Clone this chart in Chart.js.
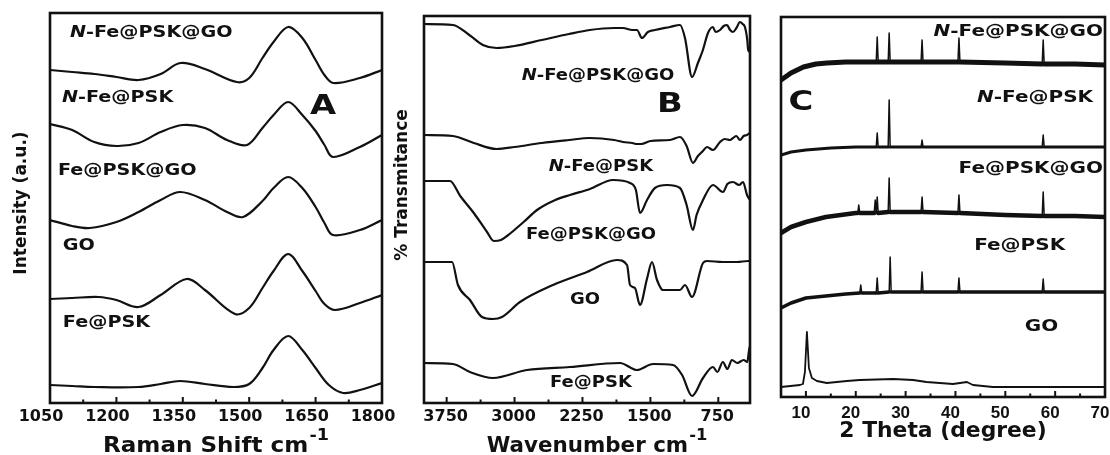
<!DOCTYPE html>
<html>
<head>
<meta charset="utf-8">
<title>Raman / FTIR / XRD</title>
<script src="https://cdn.jsdelivr.net/npm/chart.js@4.4.1/dist/chart.umd.min.js"></script>
<style>
  body { margin: 0; background: #fff; }
  #fig { position: relative; width: 1110px; height: 455px; overflow: hidden; background: #fff; }
  #fig canvas { position: absolute; top: 0; }
</style>
</head>
<body>
<div id="fig">
  <canvas id="ramanChart" width="400" height="455" style="left:0"></canvas>
  <canvas id="irChart" width="367" height="455" style="left:388px"></canvas>
  <canvas id="xrdChart" width="355" height="455" style="left:755px"></canvas>
</div>
<script>
'use strict';
// sample names, top to bottom in every panel
let sampleNames = ['N-Fe@PSK@GO', 'N-Fe@PSK', 'Fe@PSK@GO', 'GO', 'Fe@PSK'];
let xrdNames = ['N-Fe@PSK@GO', 'N-Fe@PSK', 'Fe@PSK@GO', 'Fe@PSK', 'GO'];

// ---------- A : Raman (shift cm-1 / stacked intensity a.u.) ----------
let ramanTicks = [1050, 1200, 1350, 1500, 1650, 1800];
let ramanMinor = [1125, 1275, 1425, 1575, 1725];

let ramanNFePSKGOx = [1050,1100,1150,1200,1250,1300,1345,1400,1472,1500,1530,1555,1588,1620,1650,1670,1690,1750,1800];
let ramanNFePSKGOy = [333,331,329,326,323,329,340,334,321,325,345,361,376,365,343,328,320,325,333];
let ramanNFePSKx = [1050,1100,1150,1200,1250,1300,1350,1400,1450,1495,1530,1555,1588,1620,1650,1670,1689,1750,1800];
let ramanNFePSKy = [279,273,261,257,260,271,278,275,263,258,275,288,301,288,272,258,246,256,268];
let ramanFePSKGOx = [1050,1100,1140,1200,1250,1300,1344,1400,1450,1486,1530,1555,1588,1620,1650,1670,1689,1750,1800];
let ramanFePSKGOy = [183,177,175,181,191,203,211,203,191,186,202,215,226,215,196,180,168,173,183];
let ramanGOx = [1050,1100,1160,1200,1250,1300,1359,1400,1468,1500,1530,1555,1588,1620,1650,1670,1694,1750,1800];
let ramanGOy = [104,105,106,103,96,108,124,113,89,95,115,132,149,132,112,99,93,100,108];
let ramanFePSKx = [1050,1100,1150,1250,1300,1344,1400,1464,1500,1530,1555,1588,1620,1650,1680,1712,1750,1800];
let ramanFePSKy = [18,17,16,16,19,22,19,16,19,35,53,67,53,35,18,10,13,20];

// ---------- B : FTIR (wavenumber cm-1 / stacked % transmitance) ----------
let irTicks = [3750, 3000, 2250, 1500, 750];
let irMinor = [3375, 2625, 1875, 1125];

let irNFePSKGOx = [4000,3680,3500,3350,3200,3000,2700,2400,2170,1900,1803,1700,1648,1593,1527,1450,1284,1173,1118,1040,975,920,864,810,780,731,690,654,620,588,550,511,480,456,430,420,400];
let irNFePSKGOy = [379,378,368,358,355,357,363,369,373,375,375,373,373,365,371,373,376,378,365,326,340,353,370,376,371,373,377,378,373,371,375,381,379,376,363,353,351];
let irNFePSKx = [4000,3680,3450,3200,3000,2700,2400,2170,1900,1803,1700,1648,1600,1500,1284,1173,1100,1030,975,920,875,809,731,680,620,588,550,511,470,433,400];
let irNFePSKy = [268,267,260,254,256,260,263,265,263,261,260,259,259,262,263,266,257,240,247,252,256,253,261,264,263,265,267,263,267,268,270];
let irFePSKGOx = [4000,3713,3600,3450,3304,3230,3150,3083,2900,2752,2550,2388,2167,1913,1725,1660,1615,1537,1450,1317,1173,1100,1030,990,919,809,698,650,588,520,477,433,400];
let irFePSKGOy = [222,222,207,190,171,162,163,167,181,193,203,208,214,223,220,213,190,203,215,218,215,198,173,188,203,218,211,219,221,218,221,208,203];
let irGOx = [4000,3690,3625,3492,3360,3238,3139,2940,2576,2200,1869,1758,1725,1670,1615,1538,1482,1427,1361,1173,1118,1040,919,875,700,544,422,400];
let irGOy = [141,141,118,103,86,84,86,101,118,131,143,138,118,115,98,124,141,123,113,113,118,106,140,142,141,141,142,142];
let irFePSKx = [4000,3680,3492,3238,2863,2388,1836,1648,1471,1250,1150,1040,919,809,760,700,650,600,540,470,430,410,400];
let irFePSKy = [40,39,31,25,33,36,40,33,39,38,28,7,25,36,31,41,34,43,40,43,41,53,57];

// ---------- C : XRD (2 theta deg / stacked counts) ----------
let xrdTicks = [10, 20, 30, 40, 50, 60, 70];
let xrdMinor = [15, 25, 35, 45, 55, 65];

let xrdNFePSKGOx = [5,7,9.5,12,14.2,18,21,24.1,24.3,24.5,26.5,26.7,26.9,30,33.1,33.3,33.5,40.5,40.7,40.9,50,57.4,57.6,57.8,64,70];
let xrdNFePSKGOy = [317,324,330,333,334,335,335,335,360,335,335,364,335,335,335,357,335,335,359,335,334,333,357,333,333,332];
let xrdNFePSKx = [5,7,10,15,20,24.1,24.3,24.5,26.5,26.7,26.9,33.1,33.3,33.5,45,57.4,57.6,57.8,70];
let xrdNFePSKy = [242,245,247,249,250,250,264,250,250,297,250,250,257,250,250,250,262,250,250];
let xrdFePSKGOx = [5,7,10,14,20,20.4,20.6,20.8,23.7,23.9,24.1,24.3,24.5,26.5,26.7,26.9,30,33.1,33.3,33.5,40.5,40.7,40.9,50,57.4,57.6,57.8,64,70];
let xrdFePSKGOy = [164,170,175,180,184,184,192,184,184,197,184,200,184,185,219,185,185,185,200,185,184,202,184,182,181,205,181,181,180];
let xrdFePSKx = [5,7,10,14,18,20.8,21,21.2,24.1,24.3,24.5,26.7,26.9,27.1,33.1,33.3,33.5,40.5,40.7,40.9,50,57.4,57.6,57.8,70];
let xrdFePSKy = [89,94,99,101,103,104,112,104,104,119,104,105,140,105,105,125,105,105,119,105,105,105,118,105,105];
let xrdGOx = [5,8.8,9.4,9.8,10.2,10.6,11.2,12.2,14.2,18.2,20.8,27.5,31.5,34.2,39.5,42.3,43.5,47.5,70];
let xrdGOy = [10,12,13,25,65,29,19,16,14,16,17,18,17,15,13,15,12,10,10];

// where the names sit, in axis units (same order as the name lists)
let ramanNameSpots = [[1095, 370], [1077, 305], [1068, 232], [1079, 157], [1079, 80]];
let irNameSpots = [[2079, 327], [2046, 236], [2156, 168], [2222, 103], [2156, 20]];
let xrdNameSpots = [[69.6, 365], [67.6, 299], [69.6, 228], [62.0, 151], [60.6, 70]];

const INK = '#111';

function pts(xs, ys) {
  return xs.map((x, i) => ({x: x, y: ys[i]}));
}

// bold name, leading N in italics, stretched sideways like the figure
function writeName(ctx, s, px, py, size, stretch, align) {
  let it = s.startsWith('N-') ? 'N' : '';
  let rest = s.slice(it.length);
  let fIt = 'italic bold ' + size + 'px "DejaVu Sans"';
  let fB = 'bold ' + size + 'px "DejaVu Sans"';
  ctx.font = fIt;
  let wi = it ? ctx.measureText(it).width : 0;
  ctx.font = fB;
  let wr = ctx.measureText(rest).width;
  let w = (wi + wr) * stretch;
  let left = align === 'left' ? px : align === 'right' ? px - w : px - w / 2;
  ctx.save();
  ctx.translate(left, py);
  ctx.scale(stretch, 1);
  ctx.textAlign = 'left';
  ctx.textBaseline = 'middle';
  if (it) {
    ctx.font = fIt;
    ctx.fillText(it, 0, 0);
  }
  ctx.font = fB;
  ctx.fillText(rest, wi, 0);
  ctx.restore();
}

let frame = {
  id: 'frame',
  afterDraw(chart, args, o) {
    let ctx = chart.ctx, a = chart.chartArea, sx = chart.scales.x, sy = chart.scales.y;
    ctx.save();
    ctx.strokeStyle = INK;
    ctx.fillStyle = INK;
    ctx.lineWidth = 2.6;
    ctx.strokeRect(a.left, a.top, a.right - a.left, a.bottom - a.top);
    // ticks point inwards from the bottom axis
    ctx.lineWidth = 2;
    ctx.beginPath();
    o.major.forEach(v => {
      let px = sx.getPixelForValue(v);
      ctx.moveTo(px, a.bottom); ctx.lineTo(px, a.bottom - 6);
    });
    o.minor.forEach(v => {
      let px = sx.getPixelForValue(v);
      ctx.moveTo(px, a.bottom); ctx.lineTo(px, a.bottom - 3.5);
    });
    ctx.stroke();

    o.names.forEach((n, i) => {
      let s = o.spots[i];
      writeName(ctx, n, sx.getPixelForValue(s[0]), sy.getPixelForValue(s[1]), o.nameSize, o.stretch, o.align);
    });
    writeName(ctx, o.letter[0], sx.getPixelForValue(o.letter[1]), sy.getPixelForValue(o.letter[2]), 27, 1.25, 'center');

    // x title with superscript
    let t = o.xTitle;
    ctx.save();
    ctx.textAlign = 'left';
    ctx.textBaseline = 'alphabetic';
    ctx.font = 'bold 21px "DejaVu Sans"';
    let w1 = ctx.measureText(t.text).width;
    ctx.font = 'bold 16px "DejaVu Sans"';
    let w2 = t.sup ? ctx.measureText(t.sup).width + 1 : 0;
    ctx.translate(t.x - (w1 + w2) * t.stretch / 2, t.base);
    ctx.scale(t.stretch, 1);
    ctx.font = 'bold 21px "DejaVu Sans"';
    ctx.fillText(t.text, 0, 0);
    if (t.sup) {
      ctx.font = 'bold 16px "DejaVu Sans"';
      ctx.fillText(t.sup, w1 + 1, -12);
    }
    ctx.restore();
    if (o.yTitle) {
      ctx.translate(o.yTitle.x, o.yTitle.y);
      ctx.rotate(-Math.PI / 2);
      ctx.font = 'bold 17px "DejaVu Sans"';
      ctx.textAlign = 'center';
      ctx.textBaseline = 'middle';
      ctx.fillText(o.yTitle.text, 0, 0);
    }
    ctx.restore();
  }
};

function makeChart(id, series, c) {
  let datasets = series.map(s => ({
    data: pts(s[0], s[1]),
    borderColor: INK,
    borderWidth: s[2],
    pointRadius: 0,
    fill: false,
    tension: c.tension,
    cubicInterpolationMode: c.curve,
    borderJoinStyle: 'round',
    borderCapStyle: 'round',
    // sharp XRD reflections stay thin, the noisy baseline is thick
    segment: c.spikes ? {
      borderWidth: ctx => Math.abs(ctx.p1.parsed.x - ctx.p0.parsed.x) < 0.3 ? 1.5 : s[2]
    } : undefined
  }));
  return new Chart(document.getElementById(id), {
    type: 'line',
    data: {datasets: datasets},
    plugins: [frame],
    options: {
      responsive: false,
      animation: false,
      layout: {padding: c.pad},
      plugins: {legend: {display: false}, tooltip: {enabled: false}, frame: c.frame},
      scales: {
        x: {
          type: 'linear',
          min: c.min,
          max: c.max,
          reverse: !!c.reverse,
          afterBuildTicks: ax => { ax.ticks = c.frame.major.map(v => ({value: v})); },
          afterFit: ax => { ax.height = c.axisH; ax.paddingLeft = 0; ax.paddingRight = 0; },
          grid: {display: false, drawTicks: false},
          border: {display: false},
          ticks: {
            color: INK,
            font: c.tickFont,
            padding: c.tickPad,
            labelOffset: c.labelOffset,
            autoSkip: false,
            maxRotation: 0,
            callback: v => String(v)
          }
        },
        y: {display: false, min: 0, max: c.ymax}
      }
    }
  });
}

makeChart('ramanChart', [
  [ramanNFePSKGOx, ramanNFePSKGOy, 2.2],
  [ramanNFePSKx, ramanNFePSKy, 2.2],
  [ramanFePSKGOx, ramanFePSKGOy, 2.2],
  [ramanGOx, ramanGOy, 2.2],
  [ramanFePSKx, ramanFePSKy, 2.2]
], {
  min: 1050, max: 1800, ymax: 390, tension: 0.35, curve: 'default',
  pad: {left: 50, top: 13, right: 18, bottom: 0},
  axisH: 52, tickPad: 4, labelOffset: -9,
  tickFont: {family: 'DejaVu Sans', size: 16, weight: 'bold'},
  frame: {
    major: ramanTicks, minor: ramanMinor,
    names: sampleNames, spots: ramanNameSpots, nameSize: 15, stretch: 1.28, align: 'left',
    letter: ['A', 1667, 296],
    xTitle: {text: 'Raman Shift cm', sup: '-1', x: 216, base: 452, stretch: 1.1},
    yTitle: {text: 'Intensity (a.u.)', x: 22, y: 203}
  }
});

makeChart('irChart', [
  [irNFePSKGOx, irNFePSKGOy, 2.2],
  [irNFePSKx, irNFePSKy, 2.2],
  [irFePSKGOx, irFePSKGOy, 2.2],
  [irGOx, irGOy, 2.2],
  [irFePSKx, irFePSKy, 2.2]
], {
  min: 400, max: 4000, reverse: true, ymax: 387, tension: 0, curve: 'monotone',
  pad: {left: 36, top: 16, right: 5, bottom: 0},
  axisH: 52, tickPad: 4, labelOffset: -1,
  tickFont: {family: 'DejaVu Sans', size: 16, weight: 'bold'},
  frame: {
    major: irTicks, minor: irMinor,
    names: sampleNames, spots: irNameSpots, nameSize: 15, stretch: 1.2, align: 'center',
    letter: ['B', 1284, 298],
    xTitle: {text: 'Wavenumber cm', sup: '-1', x: 209, base: 452, stretch: 1.02},
    yTitle: {text: '% Transmitance', x: 15, y: 185}
  }
});

makeChart('xrdChart', [
  [xrdNFePSKGOx, xrdNFePSKGOy, 5],
  [xrdNFePSKx, xrdNFePSKy, 3],
  [xrdFePSKGOx, xrdFePSKGOy, 4.5],
  [xrdFePSKx, xrdFePSKy, 3.5],
  [xrdGOx, xrdGOy, 1.8]
], {
  min: 5, max: 70, ymax: 380, tension: 0, curve: 'default', spikes: true,
  pad: {left: 26, top: 17, right: 5, bottom: 0},
  axisH: 58, tickPad: 6, labelOffset: -5,
  tickFont: {family: 'Liberation Sans', size: 17, weight: 'bold'},
  frame: {
    major: xrdTicks, minor: xrdMinor,
    names: xrdNames, spots: xrdNameSpots, nameSize: 16, stretch: 1.25, align: 'right',
    letter: ['C', 9.0, 294],
    xTitle: {text: '2 Theta (degree)', sup: '', x: 188, base: 437, stretch: 1.04},
    yTitle: null
  }
});
</script>
</body>
</html>
